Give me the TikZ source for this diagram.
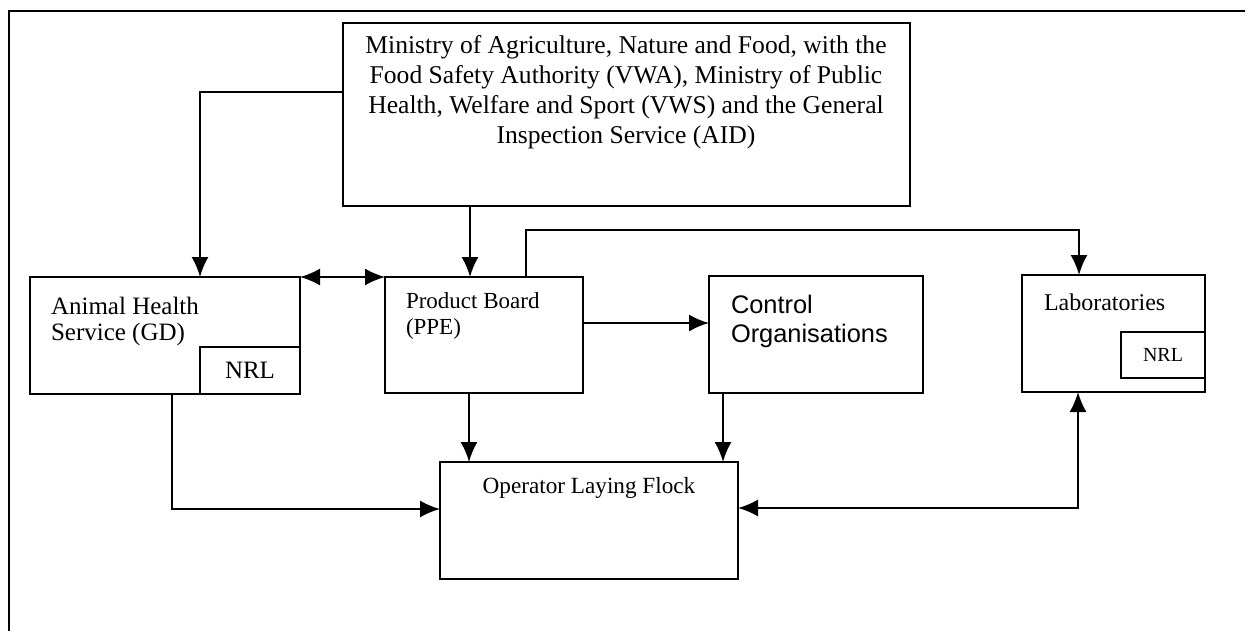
\documentclass[tikz,border=0pt]{standalone}
\usepackage{fontspec}
\setmainfont{Liberation Serif}
\newfontfamily\arialfont{Liberation Sans}
\usetikzlibrary{arrows.meta, positioning}

\begin{document}
\begin{tikzpicture}[x=0.5pt, y=-0.5pt, line width=1pt,
        >={Latex[length=10pt,width=8.5pt]},
        box/.style={draw, rectangle, inner sep=0pt, outer sep=0pt},
        txt/.style={inner sep=0pt, align=left, anchor=west}]
	\useasboundingbox (0,0) rectangle (1252,631);
	\draw (1245,11) -- (9,11) -- (9,631);
	% boxes
	\node[box, minimum width=283.5pt, minimum height=91.5pt] (min) at (626.5,114.5) {};
	\node[box, minimum width=135pt, minimum height=58.5pt] (ahs) at (165,335.5) {};
	\node[box, minimum width=99pt, minimum height=58pt] (pb) at (484,335) {};
	\node[box, minimum width=107pt, minimum height=58.5pt] (co) at (816,334.5) {};
	\node[box, minimum width=91.5pt, minimum height=58.5pt] (lab) at (1113.5,333.5) {};
	\node[box, minimum width=149pt, minimum height=58.5pt] (op) at (589,520.5) {};
	\node[box, anchor=south east, minimum width=50pt, minimum height=23.5pt,
		font=\fontsize{12.5}{14}\selectfont] (ahsnrl) at (ahs.south east) {NRL};
	\node[box, below=28.5pt of lab.north east, anchor=north east, minimum width=42pt,
		minimum height=23pt, font=\fontsize{10}{12}\selectfont] (labnrl) {NRL};
	% texts
	\node[align=center, inner sep=0pt, font=\fontsize{12.8}{15}\selectfont] (minT) at (626,92)
		{Ministry of Agriculture, Nature and Food, with the\\
		 Food Safety Authority (VWA), Ministry of Public\\
		 Health, Welfare and Sport (VWS) and the General\\
		 Inspection Service (AID)};
	\node[txt, font=\fontsize{12.5}{13}\selectfont] (ahsT) at (50,321) {Animal Health\\Service (GD)};
	\node[txt, font=\fontsize{11.5}{13}\selectfont] (pbT) at (405,316) {Product Board\\(PPE)};
	\node[txt, font=\arialfont\fontsize{12.7}{14.5}\selectfont] (coT) at (730,321) {Control\\Organisations};
	\node[txt, font=\fontsize{12}{14}\selectfont] (labT) at (1043,302) {Laboratories};
	\node[inner sep=0pt, font=\fontsize{11.6}{14}\selectfont] (opT) at (589,488) {Operator Laying Flock};
	% connectors
	\draw[->] (min.west |- 0,92) -| (ahs.north -| 200,0);
	\draw[->] (min.south -| 470,0) -- (pb.north -| 470,0);
	\draw[<->] (ahs.north east) -- (pb.north west);
	\draw[->] (pb.north -| 526,0) -- ++(0,-47) -| (lab.north -| 1079,0);
	\draw[->] (pb.east |- 0,323) -- (co.west |- 0,323);
	\draw[->] (pb.south -| 469,0) -- (op.north -| 469,0);
	\draw[->] (co.south -| 723,0) -- (op.north -| 723,0);
	\draw[->] (ahs.south -| 172,0) |- (op.west |- 0,509);
	\draw[<->] (op.east |- 0,508) -| (lab.south -| 1078,0);
\end{tikzpicture}
\end{document}
